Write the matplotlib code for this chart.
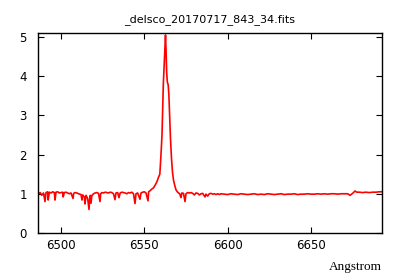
import matplotlib
matplotlib.use("Agg")
import matplotlib.pyplot as plt

title = "_delsco_20170717_843_34.fits"
xlabel = "Angstrom"
xticks = [6500, 6550, 6600, 6650]
yticks = [0, 1, 2, 3, 4, 5]

wave = [6486.3, 6487.5, 6488.5, 6489.5, 6490.4, 6491.0, 6492.0, 6492.3, 6493.0, 6494.0,
        6495.0, 6496.0, 6496.4, 6497.0, 6498.0, 6499.0, 6500.0, 6501.0, 6501.3, 6502.0,
        6503.0, 6504.0, 6505.0, 6506.0, 6507.2, 6507.6, 6508.5, 6509.5, 6510.5, 6512.0,
        6512.6, 6513.0, 6514.0, 6514.4, 6515.0, 6516.0, 6516.8, 6517.2, 6517.6, 6518.0,
        6518.5, 6519.5, 6520.5, 6521.5, 6522.5, 6523.4, 6523.8, 6524.5, 6525.5, 6526.5,
        6527.5, 6528.5, 6529.5, 6530.5, 6531.5, 6532.4, 6533.0, 6534.0, 6534.8, 6535.5,
        6536.5, 6537.5, 6538.5, 6539.5, 6540.5, 6541.5, 6542.5, 6543.5, 6544.4, 6545.0,
        6546.0, 6547.4, 6548.0, 6549.0, 6550.0, 6551.0, 6552.2, 6552.6, 6553.5, 6554.5,
        6555.5, 6556.5, 6557.5, 6558.5, 6559.3, 6560.0, 6560.6, 6561.0, 6561.4, 6561.9,
        6562.3, 6562.7, 6563.0, 6563.4, 6563.8, 6564.3, 6564.7, 6565.2, 6565.7, 6566.3,
        6566.9, 6567.5, 6568.2, 6569.0, 6569.8, 6570.5, 6571.2, 6572.0, 6572.5, 6573.5,
        6574.4, 6575.0, 6576.0, 6577.0, 6578.0, 6579.0, 6580.0, 6581.0, 6582.0, 6583.0,
        6584.0, 6585.0, 6586.4, 6587.0, 6588.0, 6589.0, 6590.0, 6591.0, 6592.0, 6593.0,
        6594.0, 6595.0, 6596.0, 6598.0, 6600.0, 6602.0, 6604.0, 6606.0, 6608.0, 6610.0,
        6612.0, 6614.0, 6616.0, 6618.0, 6620.0, 6622.0, 6624.0, 6626.0, 6628.0, 6630.0,
        6632.0, 6634.0, 6636.0, 6638.0, 6640.0, 6642.0, 6644.0, 6646.0, 6648.0, 6650.0,
        6652.0, 6654.0, 6656.0, 6658.0, 6660.0, 6662.0, 6664.0, 6666.0, 6668.0, 6670.0,
        6672.0, 6673.4, 6675.0, 6676.4, 6677.5, 6679.0, 6681.0, 6683.0, 6685.0, 6687.0,
        6689.0, 6691.0, 6692.6]

flux = [1.00, 1.03, 0.96, 1.02, 0.80, 1.03, 1.05, 0.84, 1.04, 1.02,
        1.05, 1.03, 0.84, 1.04, 1.05, 1.02, 1.03, 1.04, 0.92, 1.03,
        1.04, 1.02, 1.00, 1.02, 0.88, 1.01, 1.03, 1.02, 1.00, 0.98,
        0.84, 0.97, 0.92, 0.74, 0.96, 0.88, 0.60, 0.85, 0.96, 0.76,
        0.95, 1.00, 1.02, 1.03, 1.01, 0.80, 1.00, 1.03, 1.02, 1.04,
        1.03, 1.02, 1.04, 1.03, 1.00, 0.85, 1.02, 1.03, 0.90, 1.02,
        1.04, 1.03, 1.02, 1.00, 1.03, 1.02, 1.04, 1.00, 0.75, 1.00,
        1.02, 0.86, 1.02, 1.04, 1.05, 1.02, 0.82, 1.05, 1.08, 1.12,
        1.15, 1.22, 1.30, 1.42, 1.50, 2.00, 2.50, 3.10, 3.80, 4.30,
        4.75, 5.05, 4.70, 4.10, 3.85, 3.78, 3.55, 3.00, 2.40, 1.90,
        1.55, 1.35, 1.22, 1.10, 1.05, 1.02, 1.00, 0.90, 1.02, 1.01,
        0.80, 1.00, 1.03, 1.02, 1.03, 1.01, 0.97, 1.02, 1.01, 0.97,
        1.00, 1.01, 0.92, 0.99, 0.94, 1.00, 1.01, 0.99, 1.00, 0.98,
        1.00, 0.98, 1.00, 0.99, 0.98, 1.00, 0.99, 0.98, 1.00, 0.99,
        0.98, 0.99, 1.00, 0.98, 0.99, 0.98, 1.00, 0.99, 0.98, 0.99,
        1.00, 0.98, 0.99, 0.99, 1.00, 0.98, 0.99, 0.99, 1.00, 0.99,
        0.99, 1.00, 0.99, 1.00, 0.99, 1.00, 1.00, 0.99, 1.00, 1.00,
        1.00, 0.96, 1.01, 1.07, 1.04, 1.04, 1.03, 1.04, 1.03, 1.04,
        1.04, 1.05, 1.05]

fig = plt.figure(figsize=(4.0, 2.8), dpi=100)
ax = fig.add_axes([0.095, 0.168, 0.86, 0.714])
ax.plot(wave, flux, color="#ff0000", lw=1.2)
ax.set_xlim(6486.2, 6692.6)
ax.set_ylim(0, 5.1)
ax.set_xticks(xticks)
ax.set_yticks(yticks)
ax.tick_params(direction="in", length=4, width=0.8, top=True, right=True,
               labelsize=8.5, pad=4)
ax.tick_params(axis="y", pad=8)
for s in ax.spines.values():
    s.set_linewidth(1.0)
ax.set_title(title, fontsize=8, pad=8)
fig.text(0.955, 0.045, xlabel, ha="right", va="center",
         fontsize=9.5, family="Liberation Serif")
fig.savefig("out.png", dpi=100)
